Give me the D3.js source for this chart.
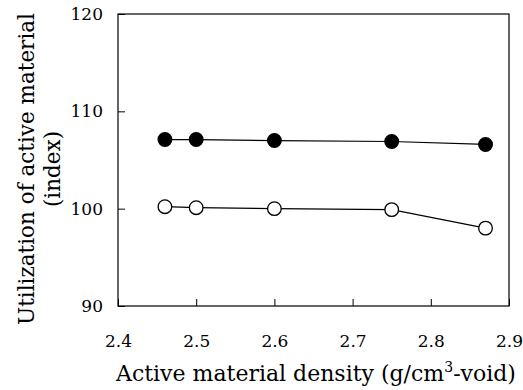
<!DOCTYPE html>
<html>
<head>
<meta charset="utf-8">
<script src="https://cdn.jsdelivr.net/npm/d3@7"></script>
<style>
  body { margin: 0; background: #fff; }
  text { font-family: "DejaVu Serif", "Liberation Serif", serif; fill: #000; }
</style>
</head>
<body>
<div id="chart"></div>
<script>
// densidade (g/cm3-void)
const density = [2.46, 2.50, 2.60, 2.75, 2.87];
// utilizacao (index) - marcadores cheios e vazios
const filledSeries = [107.1, 107.1, 107.0, 106.9, 106.6];
const openSeries = [100.2, 100.1, 100.0, 99.9, 98.0];
const xTicks = [2.4, 2.5, 2.6, 2.7, 2.8, 2.9];
const yTicks = [90, 100, 110, 120];

const W = 523, H = 390;
const margin = { top: 14, right: 14, bottom: 84, left: 118 };

const svg = d3.select("#chart").append("svg")
  .attr("width", W).attr("height", H);

const x = d3.scaleLinear().domain([2.4, 2.9]).range([margin.left, W - margin.right]);
const y = d3.scaleLinear().domain([90, 120]).range([H - margin.bottom, margin.top]);

// moldura
svg.append("rect")
  .attr("x", x(2.4)).attr("y", y(120))
  .attr("width", x(2.9) - x(2.4)).attr("height", y(90) - y(120))
  .attr("fill", "none").attr("stroke", "#000").attr("stroke-width", 1.2);

// eixo x (ticks para dentro)
const gx = svg.append("g")
  .attr("transform", `translate(0,${y(90)})`)
  .call(d3.axisTop(x).tickValues(xTicks).tickSize(7).tickFormat(d3.format(".1f")));
gx.select(".domain").remove();
gx.selectAll("line").attr("stroke", "#000");
gx.selectAll("text")
  .attr("y", 35).attr("dy", "0.35em")
  .style("font-size", "17px");

// eixo y (ticks para dentro)
const gy = svg.append("g")
  .attr("transform", `translate(${x(2.4)},0)`)
  .call(d3.axisRight(y).tickValues(yTicks).tickSize(7));
gy.select(".domain").remove();
gy.selectAll("line").attr("stroke", "#000");
gy.selectAll("text")
  .attr("x", -15).attr("text-anchor", "end")
  .style("font-size", "17px");

const line = d3.line().x(d => x(d[0])).y(d => y(d[1]));

[[openSeries, "#fff"], [filledSeries, "#000"]].forEach(([vals, fill]) => {
  const pts = density.map((d, i) => [d, vals[i]]);
  svg.append("path").datum(pts)
    .attr("d", line).attr("fill", "none")
    .attr("stroke", "#000").attr("stroke-width", 1.2);
  svg.selectAll(null).data(pts).join("circle")
    .attr("cx", d => x(d[0])).attr("cy", d => y(d[1]))
    .attr("r", 6.8)
    .attr("fill", fill).attr("stroke", "#000").attr("stroke-width", 1.3);
});

// titulo eixo x
const xt = svg.append("text")
  .attr("x", 316).attr("y", 381)
  .attr("text-anchor", "middle")
  .style("font-size", "22px");
xt.append("tspan").text("Active material density (g/cm");
xt.append("tspan").attr("dy", -9).style("font-size", "14px").text("3");
xt.append("tspan").attr("dy", 9).text("-void)");

// titulo eixo y (duas linhas)
const yt = svg.append("text")
  .attr("transform", "translate(34,169) rotate(-90)")
  .attr("text-anchor", "middle")
  .style("font-size", "21.5px");
yt.append("tspan").attr("x", 0).attr("y", 0).text("Utilization of active material");
yt.append("tspan").attr("x", 0).attr("y", 26).text("(index)");
</script>
</body>
</html>
